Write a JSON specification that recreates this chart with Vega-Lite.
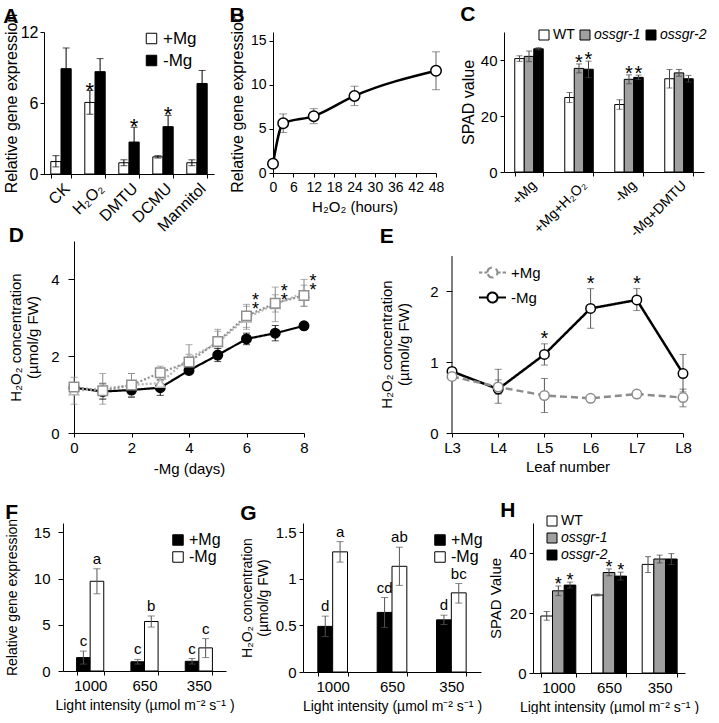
{
 "$schema": "https://vega.github.io/schema/vega-lite/v6.json",
 "padding": {"left": 0, "top": 3, "right": 0, "bottom": 0},
 "spacing": 24,
 "resolve": {"scale": {"fill": "independent", "stroke": "independent", "color": "independent", "shape": "independent", "strokeDash": "independent", "xOffset": "independent", "x": "independent", "y": "independent"}, "legend": {"fill": "independent", "stroke": "independent", "color": "independent", "shape": "independent", "strokeDash": "independent"}},
 "config": {
  "font": "Liberation Sans",
  "view": {"stroke": null},
  "axis": {"grid": false, "domainColor": "black", "tickColor": "black", "labelColor": "black", "titleColor": "black", "titleFontWeight": "normal", "tickSize": 4, "labelPadding": 3, "titlePadding": 5},
  "legend": {"labelColor": "black"},
  "title": {"anchor": "start", "frame": "bounds", "fontSize": 21, "fontWeight": "bold", "color": "black", "offset": 4},
  "text": {"color": "black"}
 },
 "vconcat": [
  {"spacing": -15,
   "resolve": {"scale": {"fill": "independent", "stroke": "independent", "color": "independent", "shape": "independent", "strokeDash": "independent", "xOffset": "independent", "x": "independent", "y": "independent"}, "legend": {"fill": "independent", "stroke": "independent", "color": "independent", "shape": "independent", "strokeDash": "independent"}},
   "vconcat": [
  {"spacing": 0,
   "resolve": {"scale": {"fill": "independent", "stroke": "independent", "color": "independent", "shape": "independent", "strokeDash": "independent", "xOffset": "independent", "x": "independent", "y": "independent"}, "legend": {"fill": "independent", "stroke": "independent", "color": "independent", "shape": "independent", "strokeDash": "independent"}},
   "hconcat": [
   {"width": 3, "height": 1, "data": {"values": []}, "mark": "point"},
   {"spacing": 15,
   "resolve": {"scale": {"fill": "independent", "stroke": "independent", "color": "independent", "shape": "independent", "strokeDash": "independent", "xOffset": "independent", "x": "independent", "y": "independent"}, "legend": {"fill": "independent", "stroke": "independent", "color": "independent", "shape": "independent", "strokeDash": "independent"}},
   "hconcat": [
   {"width": 170, "height": 142,
    "title": {"text": "A", "offset": -14},
    "data": {"values": [
     {"c": "CK", "t": "+Mg", "m": 1.05, "lo": 0.6, "hi": 1.55, "s": ""},
     {"c": "CK", "t": "-Mg", "m": 8.9, "lo": 7.15, "hi": 10.65, "s": ""},
     {"c": "H₂O₂", "t": "+Mg", "m": 6.05, "lo": 5.05, "hi": 7.05, "s": "*"},
     {"c": "H₂O₂", "t": "-Mg", "m": 8.65, "lo": 7.55, "hi": 9.75, "s": ""},
     {"c": "DMTU", "t": "+Mg", "m": 0.95, "lo": 0.7, "hi": 1.2, "s": ""},
     {"c": "DMTU", "t": "-Mg", "m": 2.7, "lo": 1.45, "hi": 3.95, "s": "*"},
     {"c": "DCMU", "t": "+Mg", "m": 1.45, "lo": 1.35, "hi": 1.55, "s": ""},
     {"c": "DCMU", "t": "-Mg", "m": 4.0, "lo": 3.05, "hi": 4.95, "s": "*"},
     {"c": "Mannitol", "t": "+Mg", "m": 0.95, "lo": 0.7, "hi": 1.2, "s": ""},
     {"c": "Mannitol", "t": "-Mg", "m": 7.65, "lo": 6.55, "hi": 8.75, "s": ""}
    ]},
    "encoding": {
     "x": {"field": "c", "type": "nominal", "sort": ["CK", "H₂O₂", "DMTU", "DCMU", "Mannitol"], "scale": {"paddingInner": 0.4, "paddingOuter": 0.2},
      "axis": {"title": null, "labelAngle": -45, "labelAlign": "right", "labelBaseline": "top", "labelFontSize": 16, "tickBand": "extent", "labelPadding": 2}},
     "xOffset": {"field": "t", "type": "nominal", "sort": ["+Mg", "-Mg"]}
    },
    "layer": [
     {"mark": {"type": "bar", "stroke": "black", "strokeWidth": 1},
      "encoding": {
       "y": {"field": "m", "type": "quantitative", "scale": {"domain": [0, 12]}, "axis": {"values": [0, 3, 6, 9, 12], "title": "Relative gene expression", "titleFontSize": 16, "labelFontSize": 16, "titlePadding": 1, "labelPadding": 2}},
       "fill": {"field": "t", "type": "nominal", "scale": {"domain": ["+Mg", "-Mg"], "range": ["white", "black"]},
        "legend": {"title": null, "orient": "none", "legendX": 99, "legendY": -2, "symbolType": "square", "symbolSize": 110, "symbolStrokeColor": "black", "symbolStrokeWidth": 1, "labelFontSize": 17, "rowPadding": 4, "labelOffset": 3}}
      }},
     {"mark": {"type": "rule", "color": "black"}, "encoding": {"y": {"field": "lo", "type": "quantitative"}, "y2": {"field": "hi"}}},
     {"mark": {"type": "tick", "orient": "horizontal", "color": "black", "size": 7, "thickness": 1}, "encoding": {"y": {"field": "lo", "type": "quantitative"}}},
     {"mark": {"type": "tick", "orient": "horizontal", "color": "black", "size": 7, "thickness": 1}, "encoding": {"y": {"field": "hi", "type": "quantitative"}}},
     {"mark": {"type": "text", "fontSize": 22, "baseline": "middle", "dy": 0}, "encoding": {"y": {"field": "hi", "type": "quantitative"}, "text": {"field": "s"}}}
    ]
   },
   {"width": 163, "height": 141,
    "title": {"text": "B", "offset": -13.5},
    "data": {"values": [
     {"h": 0, "m": 1.05, "lo": 0.95, "hi": 1.15},
     {"h": 3, "m": 5.65, "lo": 4.6, "hi": 6.7},
     {"h": 12, "m": 6.45, "lo": 5.6, "hi": 7.3},
     {"h": 24, "m": 8.75, "lo": 7.65, "hi": 9.85},
     {"h": 48, "m": 11.6, "lo": 9.45, "hi": 13.75}
    ]},
    "encoding": {
     "x": {"field": "h", "type": "quantitative", "scale": {"domain": [0, 48], "nice": false},
      "axis": {"values": [0, 6, 12, 18, 24, 30, 36, 42, 48], "title": "H₂O₂ (hours)", "labelFontSize": 14, "titleFontSize": 15, "labelFlush": false}}
    },
    "layer": [
     {"mark": {"type": "rule", "color": "#666666"}, "encoding": {"y": {"field": "lo", "type": "quantitative"}, "y2": {"field": "hi"}}},
     {"mark": {"type": "tick", "orient": "horizontal", "color": "#666666", "size": 8, "thickness": 1}, "encoding": {"y": {"field": "lo", "type": "quantitative"}}},
     {"mark": {"type": "tick", "orient": "horizontal", "color": "#666666", "size": 8, "thickness": 1}, "encoding": {"y": {"field": "hi", "type": "quantitative"}}},
     {"mark": {"type": "line", "color": "black", "strokeWidth": 2.5, "interpolate": "monotone"},
      "encoding": {"y": {"field": "m", "type": "quantitative", "scale": {"domain": [0, 15]}, "axis": {"values": [0, 5, 10, 15], "title": "Relative gene expression", "labelFontSize": 14, "titleFontSize": 16}}}},
     {"mark": {"type": "point", "filled": true, "fill": "white", "stroke": "black", "strokeWidth": 1.5, "size": 110, "opacity": 1},
      "encoding": {"y": {"field": "m", "type": "quantitative"}}}
    ]
   },
   {"width": 200, "height": 140,
    "title": {"text": "C", "offset": 3.5},
    "data": {"values": [
     {"c": "+Mg", "g": "WT", "m": 40.5, "lo": 39.5, "hi": 41.5, "s": ""},
     {"c": "+Mg", "g": "ossgr-1", "m": 41.3, "lo": 39.4, "hi": 43.2, "s": ""},
     {"c": "+Mg", "g": "ossgr-2", "m": 44.0, "lo": 43.6, "hi": 44.4, "s": ""},
     {"c": "+Mg+H₂O₂", "g": "WT", "m": 26.6, "lo": 24.8, "hi": 28.4, "s": ""},
     {"c": "+Mg+H₂O₂", "g": "ossgr-1", "m": 37.0, "lo": 35.4, "hi": 38.6, "s": "*"},
     {"c": "+Mg+H₂O₂", "g": "ossgr-2", "m": 36.7, "lo": 33.7, "hi": 39.6, "s": "*"},
     {"c": "-Mg", "g": "WT", "m": 24.1, "lo": 22.4, "hi": 25.8, "s": ""},
     {"c": "-Mg", "g": "ossgr-1", "m": 33.1, "lo": 31.5, "hi": 34.7, "s": "*"},
     {"c": "-Mg", "g": "ossgr-2", "m": 33.8, "lo": 33.0, "hi": 34.6, "s": "*"},
     {"c": "-Mg+DMTU", "g": "WT", "m": 33.3, "lo": 30.0, "hi": 36.6, "s": ""},
     {"c": "-Mg+DMTU", "g": "ossgr-1", "m": 35.4, "lo": 34.2, "hi": 36.6, "s": ""},
     {"c": "-Mg+DMTU", "g": "ossgr-2", "m": 33.3, "lo": 32.1, "hi": 34.5, "s": ""}
    ]},
    "encoding": {
     "x": {"field": "c", "type": "nominal", "sort": ["+Mg", "+Mg+H₂O₂", "-Mg", "-Mg+DMTU"], "scale": {"paddingInner": 0.43, "paddingOuter": 0.215},
      "axis": {"title": null, "labelAngle": -45, "labelAlign": "right", "labelBaseline": "top", "labelFontSize": 14, "tickBand": "extent", "labelPadding": 2}},
     "xOffset": {"field": "g", "type": "nominal", "sort": ["WT", "ossgr-1", "ossgr-2"]}
    },
    "layer": [
     {"mark": {"type": "bar", "stroke": "black", "strokeWidth": 1},
      "encoding": {
       "y": {"field": "m", "type": "quantitative", "scale": {"domain": [0, 50]}, "axis": {"values": [0, 10, 20, 30, 40, 50], "title": "SPAD value", "titleFontSize": 16, "labelFontSize": 15, "titlePadding": 4}},
       "fill": {"field": "g", "type": "nominal", "scale": {"domain": ["WT", "ossgr-1", "ossgr-2"], "range": ["white", "#a0a0a0", "black"]},
        "legend": {"title": null, "orient": "none", "direction": "horizontal", "legendX": 33, "legendY": -4, "symbolType": "square", "symbolSize": 100, "symbolStrokeColor": "black", "symbolStrokeWidth": 1, "labelFontSize": 14, "labelFontStyle": {"expr": "datum.label == 'WT' ? 'normal' : 'italic'"}, "columnPadding": 3, "labelOffset": 2}}
      }},
     {"mark": {"type": "rule", "color": "#444444"}, "encoding": {"y": {"field": "lo", "type": "quantitative"}, "y2": {"field": "hi"}}},
     {"mark": {"type": "tick", "orient": "horizontal", "color": "#444444", "size": 6, "thickness": 1}, "encoding": {"y": {"field": "lo", "type": "quantitative"}}},
     {"mark": {"type": "tick", "orient": "horizontal", "color": "#444444", "size": 6, "thickness": 1}, "encoding": {"y": {"field": "hi", "type": "quantitative"}}},
     {"mark": {"type": "text", "fontSize": 20, "baseline": "middle", "dy": -1}, "encoding": {"y": {"field": "hi", "type": "quantitative"}, "text": {"field": "s"}}}
    ]
   }
  ]}]},
  {"spacing": 0,
   "resolve": {"scale": {"fill": "independent", "stroke": "independent", "color": "independent", "shape": "independent", "strokeDash": "independent", "xOffset": "independent", "x": "independent", "y": "independent"}, "legend": {"fill": "independent", "stroke": "independent", "color": "independent", "shape": "independent", "strokeDash": "independent"}},
   "hconcat": [
   {"width": 8, "height": 1, "data": {"values": []}, "mark": "point"},
   {"spacing": 62,
   "resolve": {"scale": {"fill": "independent", "stroke": "independent", "color": "independent", "shape": "independent", "strokeDash": "independent", "xOffset": "independent", "x": "independent", "y": "independent"}, "legend": {"fill": "independent", "stroke": "independent", "color": "independent", "shape": "independent", "strokeDash": "independent"}},
   "hconcat": [
   {"width": 230, "height": 192,
    "title": {"text": "D", "offset": -5.4},
    "data": {"values": [
     {"d": 0, "g": "WT", "m": 1.18, "lo": 1.13, "hi": 1.23, "s": ""},
     {"d": 1, "g": "WT", "m": 1.08, "lo": 0.88, "hi": 1.28, "s": ""},
     {"d": 2, "g": "WT", "m": 1.12, "lo": 0.93, "hi": 1.31, "s": ""},
     {"d": 3, "g": "WT", "m": 1.18, "lo": 0.98, "hi": 1.38, "s": ""},
     {"d": 4, "g": "WT", "m": 1.63, "lo": 1.52, "hi": 1.74, "s": ""},
     {"d": 5, "g": "WT", "m": 2.03, "lo": 1.86, "hi": 2.2, "s": ""},
     {"d": 6, "g": "WT", "m": 2.45, "lo": 2.3, "hi": 2.6, "s": ""},
     {"d": 7, "g": "WT", "m": 2.6, "lo": 2.4, "hi": 2.8, "s": ""},
     {"d": 8, "g": "WT", "m": 2.79, "lo": 2.74, "hi": 2.84, "s": ""},
     {"d": 0, "g": "ossgr-1", "m": 1.1, "lo": 0.75, "hi": 1.45, "s": ""},
     {"d": 1, "g": "ossgr-1", "m": 1.15, "lo": 0.75, "hi": 1.55, "s": ""},
     {"d": 2, "g": "ossgr-1", "m": 1.25, "lo": 0.95, "hi": 1.55, "s": ""},
     {"d": 3, "g": "ossgr-1", "m": 1.3, "lo": 1.15, "hi": 1.45, "s": ""},
     {"d": 4, "g": "ossgr-1", "m": 1.95, "lo": 1.6, "hi": 2.3, "s": ""},
     {"d": 5, "g": "ossgr-1", "m": 2.35, "lo": 2.05, "hi": 2.65, "s": ""},
     {"d": 6, "g": "ossgr-1", "m": 3.0, "lo": 2.7, "hi": 3.3, "s": ""},
     {"d": 7, "g": "ossgr-1", "m": 3.35, "lo": 2.9, "hi": 3.8, "s": ""},
     {"d": 8, "g": "ossgr-1", "m": 3.65, "lo": 3.3, "hi": 4.0, "s": ""},
     {"d": 0, "g": "ossgr-2", "m": 1.2, "lo": 1.1, "hi": 1.3, "s": ""},
     {"d": 1, "g": "ossgr-2", "m": 1.1, "lo": 0.9, "hi": 1.3, "s": ""},
     {"d": 2, "g": "ossgr-2", "m": 1.25, "lo": 0.95, "hi": 1.55, "s": ""},
     {"d": 3, "g": "ossgr-2", "m": 1.57, "lo": 1.4, "hi": 1.74, "s": ""},
     {"d": 4, "g": "ossgr-2", "m": 1.85, "lo": 1.65, "hi": 2.05, "s": ""},
     {"d": 5, "g": "ossgr-2", "m": 2.38, "lo": 2.1, "hi": 2.7, "s": ""},
     {"d": 6, "g": "ossgr-2", "m": 3.05, "lo": 2.75, "hi": 3.35, "s": "*\n*"},
     {"d": 7, "g": "ossgr-2", "m": 3.38, "lo": 3.15, "hi": 3.6, "s": "*\n*"},
     {"d": 8, "g": "ossgr-2", "m": 3.58, "lo": 3.3, "hi": 3.85, "s": "*\n*"}
    ]},
    "encoding": {
     "x": {"field": "d", "type": "quantitative", "scale": {"domain": [0, 8], "nice": false},
      "axis": {"values": [0, 2, 4, 6, 8], "title": "-Mg (days)", "labelFontSize": 15, "titleFontSize": 15, "labelFlush": false, "titlePadding": 6}}
    },
    "layer": [
     {"mark": {"type": "rule"}, "encoding": {"y": {"field": "lo", "type": "quantitative"}, "y2": {"field": "hi"},
      "color": {"field": "g", "type": "nominal", "scale": {"domain": ["WT", "ossgr-1", "ossgr-2"], "range": ["black", "#8a8a8a", "#8a8a8a"]}, "legend": null}}},
     {"mark": {"type": "tick", "orient": "horizontal", "size": 7, "thickness": 1}, "encoding": {"y": {"field": "lo", "type": "quantitative"}, "color": {"field": "g", "type": "nominal", "legend": null}}},
     {"mark": {"type": "tick", "orient": "horizontal", "size": 7, "thickness": 1}, "encoding": {"y": {"field": "hi", "type": "quantitative"}, "color": {"field": "g", "type": "nominal", "legend": null}}},
     {"mark": {"type": "line", "strokeWidth": 2.2},
      "encoding": {
       "y": {"field": "m", "type": "quantitative", "scale": {"domain": [0, 5]}, "axis": {"values": [0, 1, 2, 3, 4, 5], "title": ["H₂O₂ concentration", "(µmol/g FW)"], "labelFontSize": 15, "titleFontSize": 15, "tickSize": 6, "labelPadding": 9, "titlePadding": 10}},
       "stroke": {"field": "g", "type": "nominal", "scale": {"domain": ["WT", "ossgr-1", "ossgr-2"], "range": ["black", "#b5b5b5", "#909090"]},
        "legend": {"title": null, "orient": "none", "legendX": 30, "legendY": 12,
         "symbolType": {"expr": "datum.value == 'WT' ? 'M-1,0H1M-0.27,0A0.27,0.27,0,1,1,0.27,0A0.27,0.27,0,1,1,-0.27,0Z' : datum.value == 'ossgr-1' ? 'M-1,0H-0.9M-0.8,0H-0.7M-0.6,0H-0.5M-0.4,0H-0.32M0,-0.34L0.3,0.2L-0.3,0.2ZM0.32,0H0.4M0.5,0H0.6M0.7,0H0.8M0.9,0H1' : 'M-1,0H-0.9M-0.8,0H-0.7M-0.6,0H-0.5M-0.4,0H-0.32M-0.27,-0.27H0.27V0.27H-0.27ZM0.32,0H0.4M0.5,0H0.6M0.7,0H0.8M0.9,0H1'"},
         "symbolSize": 1369, "symbolStrokeWidth": 2,
         "symbolFillColor": {"expr": "datum.value == 'WT' ? 'black' : 'white'"},
         "labelFontSize": 15, "labelFontStyle": {"expr": "datum.label == 'WT' ? 'normal' : 'italic'"}, "rowPadding": -10, "labelOffset": 5}},
       "strokeDash": {"field": "g", "type": "nominal", "scale": {"domain": ["WT", "ossgr-1", "ossgr-2"], "range": [[1, 0], [2, 2], [2, 2]]}, "legend": null}
      }},
     {"mark": {"type": "point", "filled": true, "strokeWidth": 1.5, "size": 90, "opacity": 1},
      "encoding": {
       "y": {"field": "m", "type": "quantitative"},
       "stroke": {"field": "g", "type": "nominal"},
       "shape": {"field": "g", "type": "nominal", "scale": {"domain": ["WT", "ossgr-1", "ossgr-2"], "range": ["circle", "triangle-up", "square"]}, "legend": null},
       "fill": {"field": "g", "type": "nominal", "scale": {"domain": ["WT", "ossgr-1", "ossgr-2"], "range": ["black", "white", "white"]}, "legend": null}
      }},
     {"mark": {"type": "text", "fontSize": 18, "lineBreak": "\n", "lineHeight": 9, "dx": 9, "dy": -3, "baseline": "middle"},
      "encoding": {"y": {"field": "hi", "type": "quantitative"}, "text": {"field": "s"}}}
    ]
   },
   {"width": 231, "height": 192,
    "title": {"text": "E", "offset": -5.8},
    "data": {"values": [
     {"l": "L3", "t": "-Mg", "m": 0.87, "lo": 0.82, "hi": 0.92, "s": ""},
     {"l": "L4", "t": "-Mg", "m": 0.62, "lo": 0.42, "hi": 0.9, "s": ""},
     {"l": "L5", "t": "-Mg", "m": 1.11, "lo": 0.96, "hi": 1.26, "s": "*"},
     {"l": "L6", "t": "-Mg", "m": 1.76, "lo": 1.48, "hi": 2.04, "s": "*"},
     {"l": "L7", "t": "-Mg", "m": 1.88, "lo": 1.73, "hi": 2.04, "s": "*"},
     {"l": "L8", "t": "-Mg", "m": 0.84, "lo": 0.58, "hi": 1.11, "s": ""},
     {"l": "L3", "t": "+Mg", "m": 0.8, "lo": 0.76, "hi": 0.84, "s": ""},
     {"l": "L4", "t": "+Mg", "m": 0.65, "lo": 0.55, "hi": 0.75, "s": ""},
     {"l": "L5", "t": "+Mg", "m": 0.53, "lo": 0.29, "hi": 0.77, "s": ""},
     {"l": "L6", "t": "+Mg", "m": 0.49, "lo": 0.45, "hi": 0.53, "s": ""},
     {"l": "L7", "t": "+Mg", "m": 0.55, "lo": 0.52, "hi": 0.58, "s": ""},
     {"l": "L8", "t": "+Mg", "m": 0.5, "lo": 0.37, "hi": 0.62, "s": ""}
    ]},
    "encoding": {
     "x": {"field": "l", "type": "ordinal", "scale": {"type": "point", "padding": 0},
      "axis": {"title": "Leaf number", "labelAngle": 0, "labelFontSize": 15, "titleFontSize": 15, "titlePadding": 4}}
    },
    "layer": [
     {"data": {"values": [{"l": "L3", "a": 0, "b": 2.5}]},
      "mark": {"type": "rule", "color": "black", "strokeWidth": 1}, "encoding": {"y": {"field": "a", "type": "quantitative"}, "y2": {"field": "b"}}},
     {"mark": {"type": "rule", "color": "#555555"}, "encoding": {"y": {"field": "lo", "type": "quantitative"}, "y2": {"field": "hi"}}},
     {"mark": {"type": "tick", "orient": "horizontal", "color": "#555555", "size": 7, "thickness": 1}, "encoding": {"y": {"field": "lo", "type": "quantitative"}}},
     {"mark": {"type": "tick", "orient": "horizontal", "color": "#555555", "size": 7, "thickness": 1}, "encoding": {"y": {"field": "hi", "type": "quantitative"}}},
     {"mark": {"type": "line", "strokeWidth": 2.5},
      "encoding": {
       "y": {"field": "m", "type": "quantitative", "scale": {"domain": [0, 2.713], "nice": false}, "axis": {"values": [0, 0.5, 1, 1.5, 2, 2.5], "format": "~g", "domain": false, "title": ["H₂O₂ concentration", "(µmol/g FW)"], "titleY": 103, "labelFontSize": 15, "titleFontSize": 15, "tickSize": 6, "labelPadding": 8, "titlePadding": 18}},
       "stroke": {"field": "t", "type": "nominal", "scale": {"domain": ["+Mg", "-Mg"], "range": ["#8c8c8c", "black"]},
        "legend": {"title": null, "orient": "none", "legendX": 26, "legendY": 17,
         "symbolType": {"expr": "datum.value == '+Mg' ? 'M-1,0H-0.75M-0.6,0H-0.4M-0.37,0A0.37,0.37,0,1,1,0.37,0A0.37,0.37,0,1,1,-0.37,0ZM0.4,0H0.6M0.75,0H1' : 'M-1,0H-0.37M-0.37,0A0.37,0.37,0,1,1,0.37,0A0.37,0.37,0,1,1,-0.37,0ZM0.37,0H1'"},
         "symbolSize": 729, "symbolStrokeWidth": 2, "symbolFillColor": "white",
         "labelFontSize": 15, "rowPadding": 1, "labelOffset": 4}},
       "strokeDash": {"field": "t", "type": "nominal", "scale": {"domain": ["+Mg", "-Mg"], "range": [[7, 4], [1, 0]]}, "legend": null}
      }},
     {"mark": {"type": "point", "filled": true, "fill": "white", "strokeWidth": 1.5, "size": 90, "opacity": 1},
      "encoding": {"y": {"field": "m", "type": "quantitative"}, "stroke": {"field": "t", "type": "nominal"}}},
     {"mark": {"type": "text", "fontSize": 20, "baseline": "middle", "dy": -5},
      "encoding": {"y": {"field": "hi", "type": "quantitative"}, "text": {"field": "s"}}}
    ]
   }
  ]}]}
  ]},
  {"spacing": 0,
   "resolve": {"scale": {"fill": "independent", "stroke": "independent", "color": "independent", "shape": "independent", "strokeDash": "independent", "xOffset": "independent", "x": "independent", "y": "independent"}, "legend": {"fill": "independent", "stroke": "independent", "color": "independent", "shape": "independent", "strokeDash": "independent"}},
   "hconcat": [
   {"width": 5, "height": 1, "data": {"values": []}, "mark": "point"},
   {"spacing": 5,
   "resolve": {"scale": {"fill": "independent", "stroke": "independent", "color": "independent", "shape": "independent", "strokeDash": "independent", "xOffset": "independent", "x": "independent", "y": "independent"}, "legend": {"fill": "independent", "stroke": "independent", "color": "independent", "shape": "independent", "strokeDash": "independent"}},
   "hconcat": [
   {"width": 163, "height": 148,
    "title": {"text": "F", "offset": -4.5},
    "data": {"values": [
     {"li": "1000", "t": "+Mg", "m": 1.45, "lo": 0.75, "hi": 2.15, "s": "c"},
     {"li": "1000", "t": "-Mg", "m": 9.7, "lo": 8.35, "hi": 11.05, "s": "a"},
     {"li": "650", "t": "+Mg", "m": 1.0, "lo": 0.75, "hi": 1.25, "s": "c"},
     {"li": "650", "t": "-Mg", "m": 5.35, "lo": 4.75, "hi": 5.95, "s": "b"},
     {"li": "350", "t": "+Mg", "m": 1.05, "lo": 0.75, "hi": 1.35, "s": "c"},
     {"li": "350", "t": "-Mg", "m": 2.5, "lo": 1.45, "hi": 3.5, "s": "c"}
    ]},
    "encoding": {
     "x": {"field": "li", "type": "nominal", "sort": ["1000", "650", "350"], "scale": {"paddingInner": 0.5, "paddingOuter": 0.25},
      "axis": {"title": "Light intensity (µmol m⁻² s⁻¹ )", "labelAngle": 0, "labelFontSize": 15, "titleFontSize": 14, "tickBand": "extent"}},
     "xOffset": {"field": "t", "type": "nominal", "sort": ["+Mg", "-Mg"]}
    },
    "layer": [
     {"mark": {"type": "bar", "stroke": "black", "strokeWidth": 1},
      "encoding": {
       "y": {"field": "m", "type": "quantitative", "scale": {"domain": [0, 15]}, "axis": {"values": [0, 5, 10, 15], "title": "Relative gene expression", "titleFontSize": 14, "labelFontSize": 15, "tickSize": 5, "labelPadding": 8, "titlePadding": 14}},
       "fill": {"field": "t", "type": "nominal", "scale": {"domain": ["+Mg", "-Mg"], "range": ["black", "white"]},
        "legend": {"title": null, "orient": "none", "legendX": 107, "legendY": 9, "symbolType": "square", "symbolSize": 110, "symbolStrokeColor": "black", "symbolStrokeWidth": 1, "labelFontSize": 16, "rowPadding": 1, "labelOffset": 3}}
      }},
     {"mark": {"type": "rule", "color": "#555555"}, "encoding": {"y": {"field": "lo", "type": "quantitative"}, "y2": {"field": "hi"}}},
     {"mark": {"type": "tick", "orient": "horizontal", "color": "#555555", "size": 7, "thickness": 1}, "encoding": {"y": {"field": "lo", "type": "quantitative"}}},
     {"mark": {"type": "tick", "orient": "horizontal", "color": "#555555", "size": 7, "thickness": 1}, "encoding": {"y": {"field": "hi", "type": "quantitative"}}},
     {"mark": {"type": "text", "fontSize": 15, "baseline": "alphabetic", "dy": -5}, "encoding": {"y": {"field": "hi", "type": "quantitative"}, "text": {"field": "s"}}}
    ]
   },
   {"width": 178, "height": 149,
    "title": {"text": "G", "offset": -0.5},
    "data": {"values": [
     {"li": "1000", "t": "+Mg", "m": 0.49, "lo": 0.38, "hi": 0.6, "s": "d"},
     {"li": "1000", "t": "-Mg", "m": 1.29, "lo": 1.18, "hi": 1.4, "s": "a"},
     {"li": "650", "t": "+Mg", "m": 0.64, "lo": 0.48, "hi": 0.8, "s": "cd"},
     {"li": "650", "t": "-Mg", "m": 1.135, "lo": 0.93, "hi": 1.34, "s": "ab"},
     {"li": "350", "t": "+Mg", "m": 0.56, "lo": 0.51, "hi": 0.61, "s": "d"},
     {"li": "350", "t": "-Mg", "m": 0.85, "lo": 0.74, "hi": 0.95, "s": "bc"}
    ]},
    "encoding": {
     "x": {"field": "li", "type": "nominal", "sort": ["1000", "650", "350"], "scale": {"paddingInner": 0.5, "paddingOuter": 0.25},
      "axis": {"title": "Light intensity (µmol m⁻² s⁻¹ )", "labelAngle": 0, "labelFontSize": 15, "titleFontSize": 14, "tickBand": "extent"}},
     "xOffset": {"field": "t", "type": "nominal", "sort": ["+Mg", "-Mg"]}
    },
    "layer": [
     {"mark": {"type": "bar", "stroke": "black", "strokeWidth": 1},
      "encoding": {
       "y": {"field": "m", "type": "quantitative", "scale": {"domain": [0, 1.5]}, "axis": {"values": [0, 0.5, 1, 1.5], "format": "~g", "title": ["H₂O₂ concentration", "(µmol/g FW)"], "titleFontSize": 14, "labelFontSize": 15}},
       "fill": {"field": "t", "type": "nominal", "scale": {"domain": ["+Mg", "-Mg"], "range": ["black", "white"]},
        "legend": {"title": null, "orient": "none", "legendX": 129, "legendY": 9, "symbolType": "square", "symbolSize": 110, "symbolStrokeColor": "black", "symbolStrokeWidth": 1, "labelFontSize": 16, "rowPadding": 1, "labelOffset": 3}}
      }},
     {"mark": {"type": "rule", "color": "#555555"}, "encoding": {"y": {"field": "lo", "type": "quantitative"}, "y2": {"field": "hi"}}},
     {"mark": {"type": "tick", "orient": "horizontal", "color": "#555555", "size": 7, "thickness": 1}, "encoding": {"y": {"field": "lo", "type": "quantitative"}}},
     {"mark": {"type": "tick", "orient": "horizontal", "color": "#555555", "size": 7, "thickness": 1}, "encoding": {"y": {"field": "hi", "type": "quantitative"}}},
     {"mark": {"type": "text", "fontSize": 15, "baseline": "alphabetic", "dy": -5}, "encoding": {"y": {"field": "hi", "type": "quantitative"}, "text": {"field": "s"}}}
    ]
   },
   {"width": 152, "height": 150,
    "title": {"text": "H", "offset": -7, "dx": 12},
    "data": {"values": [
     {"li": "1000", "g": "WT", "m": 19.0, "lo": 17.6, "hi": 20.5, "s": ""},
     {"li": "1000", "g": "ossgr-1", "m": 27.4, "lo": 25.8, "hi": 29.0, "s": "*"},
     {"li": "1000", "g": "ossgr-2", "m": 29.3, "lo": 28.3, "hi": 30.3, "s": "*"},
     {"li": "650", "g": "WT", "m": 26.0, "lo": 25.7, "hi": 26.3, "s": ""},
     {"li": "650", "g": "ossgr-1", "m": 33.5, "lo": 32.4, "hi": 34.7, "s": "*"},
     {"li": "650", "g": "ossgr-2", "m": 32.3, "lo": 31.0, "hi": 33.6, "s": "*"},
     {"li": "350", "g": "WT", "m": 36.2, "lo": 33.5, "hi": 38.8, "s": ""},
     {"li": "350", "g": "ossgr-1", "m": 38.0, "lo": 36.7, "hi": 39.3, "s": ""},
     {"li": "350", "g": "ossgr-2", "m": 38.0, "lo": 36.2, "hi": 39.8, "s": ""}
    ]},
    "encoding": {
     "x": {"field": "li", "type": "nominal", "sort": ["1000", "650", "350"], "scale": {"paddingInner": 0.31, "paddingOuter": 0.155},
      "axis": {"title": "Light intensity (µmol m⁻² s⁻¹ )", "labelAngle": 0, "labelFontSize": 15, "titleFontSize": 14, "tickBand": "extent"}},
     "xOffset": {"field": "g", "type": "nominal", "sort": ["WT", "ossgr-1", "ossgr-2"]}
    },
    "layer": [
     {"mark": {"type": "bar", "stroke": "black", "strokeWidth": 1},
      "encoding": {
       "y": {"field": "m", "type": "quantitative", "scale": {"domain": [0, 50]}, "axis": {"values": [0, 10, 20, 30, 40, 50], "title": "SPAD Value", "titleFontSize": 15, "labelFontSize": 15, "titlePadding": 6}},
       "fill": {"field": "g", "type": "nominal", "scale": {"domain": ["WT", "ossgr-1", "ossgr-2"], "range": ["white", "#a0a0a0", "black"]},
        "legend": {"title": null, "orient": "none", "legendX": 12, "legendY": -9, "symbolType": "square", "symbolSize": 100, "symbolStrokeColor": "black", "symbolStrokeWidth": 1, "labelFontSize": 14, "labelFontStyle": {"expr": "datum.label == 'WT' ? 'normal' : 'italic'"}, "rowPadding": 3, "labelOffset": 2}}
      }},
     {"mark": {"type": "rule", "color": "#444444"}, "encoding": {"y": {"field": "lo", "type": "quantitative"}, "y2": {"field": "hi"}}},
     {"mark": {"type": "tick", "orient": "horizontal", "color": "#444444", "size": 6, "thickness": 1}, "encoding": {"y": {"field": "lo", "type": "quantitative"}}},
     {"mark": {"type": "tick", "orient": "horizontal", "color": "#444444", "size": 6, "thickness": 1}, "encoding": {"y": {"field": "hi", "type": "quantitative"}}},
     {"mark": {"type": "text", "fontSize": 18, "baseline": "middle", "dy": -1}, "encoding": {"y": {"field": "hi", "type": "quantitative"}, "text": {"field": "s"}}}
    ]
   }
  ]}]}
 ]
}
